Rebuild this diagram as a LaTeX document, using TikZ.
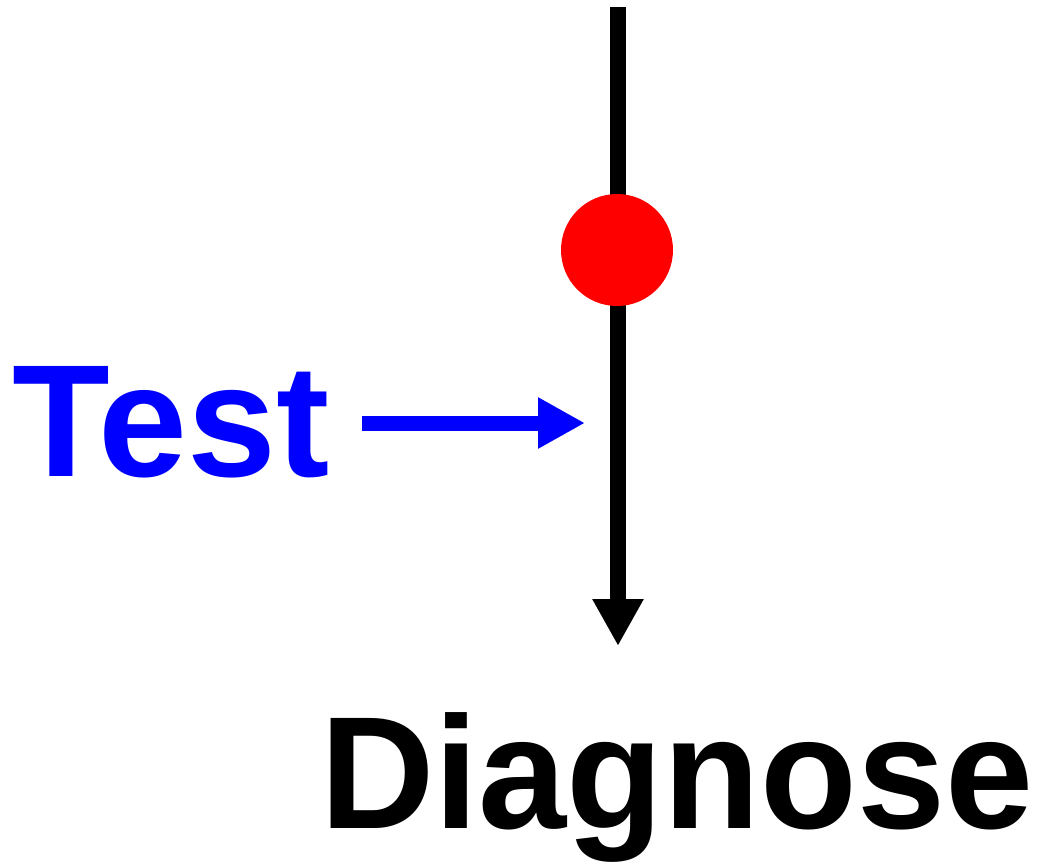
\documentclass[tikz,border=0pt]{standalone}
\usepackage{fontspec}
\setmainfont{Liberation Sans}
\usetikzlibrary{arrows.meta}
\definecolor{pureblue}{RGB}{0,0,255}
\definecolor{purered}{RGB}{255,0,0}
\tikzset{
  bigtext/.style={inner sep=0pt, anchor=base west, font=\bfseries\fontsize{160}{160}\selectfont},
  flow/.style={line width=16pt, -{Triangle[length=47pt,width=48pt]}},
  dot/.style={circle, fill=purered, inner sep=0pt, minimum size=112pt}
}
\begin{document}
\begin{tikzpicture}[x=1pt,y=-1pt]
\useasboundingbox (0,0) rectangle (1041,863);
\coordinate (top) at (618,7);
\coordinate (bottom) at (618,646);
\draw[flow, black] (top) -- (bottom);
\node[dot] (event) at (617,250) {};
\node[bigtext, text=pureblue] (test) at (12,476) {Test};
\coordinate (tstart) at (362,423);
\coordinate (tend) at (585,423);
\draw[flow, pureblue, line width=15pt] (tstart) -- (tend);
\node[bigtext, anchor=base, xscale=0.99] (diag) at (677,828) {Diagnose};
\end{tikzpicture}
\end{document}
